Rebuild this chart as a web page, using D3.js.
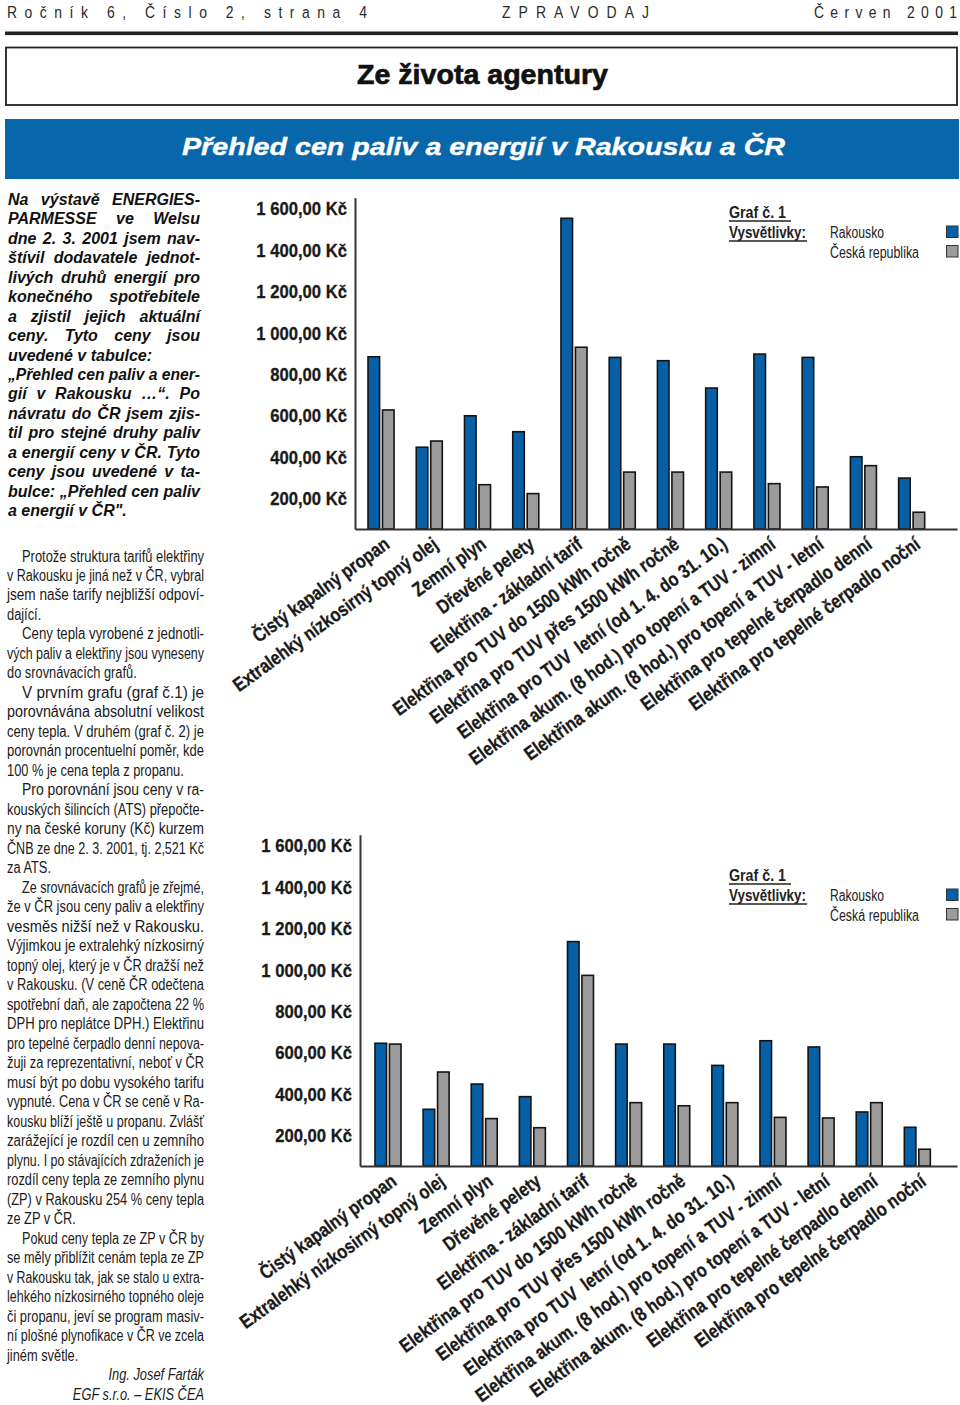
<!DOCTYPE html>
<html><head><meta charset="utf-8">
<script src="https://cdn.jsdelivr.net/npm/d3@7"></script>
<style>
body{margin:0;background:#fff}
svg{display:block}
.cat text{white-space:pre}
</style>
</head><body>
<svg id="page" width="960" height="1405"></svg>
<script>
// ---------------- DATA ----------------
const categories = [
  "Čistý kapalný propan",
  "Extralehký nízkosirný topný olej",
  "Zemní plyn",
  "Dřevěné pelety",
  "Elektřina - základní tarif",
  "Elektřina pro TUV do 1500 kWh ročně",
  "Elektřina pro TUV přes 1500 kWh ročně",
  "Elektřina pro TUV  letní (od 1. 4. do 31. 10.)",
  "Elektřina akum. (8 hod.) pro topení a TUV - zimní",
  "Elektřina akum. (8 hod.) pro topení a TUV - letní",
  "Elektřina pro tepelné čerpadlo denní",
  "Elektřina pro tepelné čerpadlo noční"
];
const seriesNames = ["Rakousko", "Česká republika"];
// Graf 1 (Kč)
const chart1Rakousko = [832, 395, 547, 470, 1501, 829, 813, 681, 845, 829, 349, 246];
const chart1CR       = [575, 425, 214, 171, 878, 275, 275, 275, 219, 203, 306, 81];
// Graf 2 (Kč)
const chart2Rakousko = [593, 274, 396, 335, 1084, 589, 589, 486, 605, 575, 261, 187];
const chart2CR       = [589, 454, 229, 185, 921, 306, 291, 306, 235, 232, 306, 81];
const yTickValues = [200, 400, 600, 800, 1000, 1200, 1400, 1600];
const yMax = 1600;
const legendTitle = "Graf č. 1";
const legendHeading = "Vysvětlivky:";

const headerLeft = "Ročník 6, Číslo 2, strana 4";
const headerMid = "ZPRAVODAJ";
const headerRight = "Červen 2001";
const sectionTitle = "Ze života agentury";
const articleTitle = "Přehled cen paliv a energií v Rakousku a ČR";

const introLines = [
  ["Na výstavě ENERGIES-", 1],
  ["PARMESSE ve Welsu", 1],
  ["dne 2. 3. 2001 jsem nav-", 1],
  ["štívil dodavatele jednot-", 1],
  ["livých druhů energií pro", 1],
  ["konečného spotřebitele", 1],
  ["a zjistil jejich aktuální", 1],
  ["ceny. Tyto ceny jsou", 1],
  ["uvedené v tabulce:", 0],
  ["„Přehled cen paliv a ener-", 1],
  ["gií v Rakousku …“. Po", 1],
  ["návratu do ČR jsem zjis-", 1],
  ["til pro stejné druhy paliv", 1],
  ["a energií ceny v ČR. Tyto", 1],
  ["ceny jsou uvedené v ta-", 1],
  ["bulce: „Přehled cen paliv", 1],
  ["a energií v ČR\".", 0]
];
// [text, justified, indent]
const bodyLines = [
  ["Protože struktura tarifů elektřiny", 1, 1],
  ["v Rakousku je jiná než v ČR, vybral", 1, 0],
  ["jsem naše tarify nejbližší odpoví-", 1, 0],
  ["dající.", 0, 0],
  ["Ceny tepla vyrobené z jednotli-", 1, 1],
  ["vých paliv a elektřiny jsou vyneseny", 1, 0],
  ["do srovnávacích grafů.", 0, 0],
  ["V prvním grafu (graf č.1) je", 1, 1],
  ["porovnávána absolutní velikost", 1, 0],
  ["ceny tepla. V druhém (graf č. 2) je", 1, 0],
  ["porovnán procentuelní poměr, kde", 1, 0],
  ["100 % je cena tepla z propanu.", 0, 0],
  ["Pro porovnání jsou ceny v ra-", 1, 1],
  ["kouských šilincích (ATS) přepočte-", 1, 0],
  ["ny na české koruny (Kč) kurzem", 1, 0],
  ["ČNB ze dne 2. 3. 2001, tj. 2,521 Kč", 1, 0],
  ["za ATS.", 0, 0],
  ["Ze srovnávacích grafů je zřejmé,", 1, 1],
  ["že v ČR jsou ceny paliv a elektřiny", 1, 0],
  ["vesměs nižší než v Rakousku.", 1, 0],
  ["Výjimkou je extralehký nízkosirný", 1, 0],
  ["topný olej, který je v ČR dražší než", 1, 0],
  ["v Rakousku. (V ceně ČR odečtena", 1, 0],
  ["spotřební daň, ale započtena 22 %", 1, 0],
  ["DPH pro neplátce DPH.) Elektřinu", 1, 0],
  ["pro tepelné čerpadlo denní nepova-", 1, 0],
  ["žuji za reprezentativní, neboť v ČR", 1, 0],
  ["musí být po dobu vysokého tarifu", 1, 0],
  ["vypnuté. Cena v ČR se ceně v Ra-", 1, 0],
  ["kousku blíží ještě u propanu. Zvlášť", 1, 0],
  ["zarážející je rozdíl cen u zemního", 1, 0],
  ["plynu. I po stávajících zdraženích je", 1, 0],
  ["rozdíl ceny tepla ze zemního plynu", 1, 0],
  ["(ZP) v Rakousku 254 % ceny tepla", 1, 0],
  ["ze ZP v ČR.", 0, 0],
  ["Pokud ceny tepla ze ZP v ČR by", 1, 1],
  ["se měly přiblížit cenám tepla ze ZP", 1, 0],
  ["v Rakousku tak, jak se stalo u extra-", 1, 0],
  ["lehkého nízkosirného topného oleje", 1, 0],
  ["či propanu, jeví se program masiv-", 1, 0],
  ["ní plošné plynofikace v ČR ve zcela", 1, 0],
  ["jiném světle.", 0, 0]
];
const signatureLines = ["Ing. Josef Farták", "EGF s.r.o. – EKIS ČEA"];

// ---------------- STYLE ----------------
const BLUE = "#0560a8";
const BAND = "#0866ab";
const GREY = "#9b9b9b";
const SANS = "'Liberation Sans',Arial,Helvetica,sans-serif";

const svg = d3.select("#page");

function fitText(sel, w, adj) {
  sel.attr("textLength", w).attr("lengthAdjust", adj || "spacingAndGlyphs");
  return sel;
}

// ---------------- HEADER ----------------
const hdr = svg.append("g").attr("font-family", SANS).attr("font-size", 17).attr("fill", "#2a2a2a");
[[headerLeft, 7, 360], [headerMid, 502, 147], [headerRight, 814, 143]].forEach(([t, x, w]) => {
  const el = hdr.append("text").attr("x", x).attr("y", 18).text(t);
  el.attr("transform", `translate(${x},0) scale(0.82,1) translate(${-x},0)`);
  fitText(el, w / 0.82, "spacing");
});
svg.append("rect").attr("x", 5).attr("y", 31.5).attr("width", 953).attr("height", 3.6).attr("fill", "#222");

svg.append("rect").attr("x", 6).attr("y", 47.5).attr("width", 951).attr("height", 57.5)
  .attr("fill", "none").attr("stroke", "#222").attr("stroke-width", 1.8);
fitText(svg.append("text").attr("x", 357).attr("y", 84)
  .attr("font-family", SANS).attr("font-weight", "bold").attr("font-size", 28)
  .attr("fill", "#111").attr("stroke", "#111").attr("stroke-width", 0.7)
  .text(sectionTitle), 251);

svg.append("rect").attr("x", 5).attr("y", 119).attr("width", 954).attr("height", 60).attr("fill", BAND);
fitText(svg.append("text").attr("x", 182).attr("y", 155)
  .attr("font-family", SANS).attr("font-weight", "bold").attr("font-style", "italic").attr("font-size", 24.5)
  .attr("fill", "#fff").attr("stroke", "#fff").attr("stroke-width", 0.4)
  .text(articleTitle), 603);

// ---------------- TEXT BLOCKS ----------------
function textBlock(lines, o) {
  const g = svg.append("g").attr("font-family", o.family).attr("font-size", o.size)
    .attr("font-weight", o.weight || "normal").attr("font-style", o.style || "normal").attr("fill", o.fill || "#111");
  const nodes = lines.map((ln, i) => {
    const [t, j, ind] = ln;
    const x = o.x + (ind ? o.indent : 0);
    const el = g.append("text").attr("x", x).attr("y", o.y + i * o.lh).text(t);
    return {el, t, j, target: o.width - (ind ? o.indent : 0), nat: el.node().getComputedTextLength()};
  });
  const js = nodes.filter(n => n.j);
  const ratios = js.map(n => n.target / n.nat).filter(r => r < 1);
  const cf = ratios.length > js.length / 2 ? d3.median(ratios) : 1;
  nodes.forEach(n => {
    if (n.j) {
      const spaces = (n.t.match(/ /g) || []).length;
      if (n.nat <= n.target && spaces > 0 && cf === 1) {
        n.el.attr("word-spacing", (n.target - n.nat) / spaces);
      } else {
        fitText(n.el, n.target);
      }
    } else if (cf < 1) {
      fitText(n.el, n.nat * cf);
    }
  });
  return cf;
}
textBlock(introLines, {family: SANS, size: 16, weight: "bold", style: "italic", x: 8, y: 205, lh: 19.44, width: 192, indent: 0});
const cf = textBlock(bodyLines, {family: SANS, size: 16, x: 7, y: 561.5, lh: 19.49, width: 197, indent: 15, fill: "#1a1a1a"});
const sig = svg.append("g").attr("font-family", SANS).attr("font-size", 16).attr("font-style", "italic").attr("fill", "#1a1a1a");
signatureLines.forEach((t, i) => {
  const el = sig.append("text").attr("x", 204).attr("y", 561.5 + (bodyLines.length + i) * 19.49).attr("text-anchor", "end").text(t);
  fitText(el, el.node().getComputedTextLength() * cf);
});

// ---------------- CHARTS ----------------
const fmt = d3.formatLocale({decimal: ",", thousands: " ", grouping: [3], currency: ["", " Kč"]}).format("$,.2f");

function drawChart(c) {
  const g = svg.append("g");
  const y = d3.scaleLinear().domain([0, yMax]).range([c.base, c.base - 331.2]);
  const x0 = d3.scaleBand().domain(categories).range([c.axisX, 957])
    .paddingInner(0.46).paddingOuter(c.po).align(c.align);
  const x1 = d3.scaleBand().domain(seriesNames).range([0, x0.bandwidth()]).paddingInner(0.2);
  const color = d3.scaleOrdinal().domain(seriesNames).range([BLUE, GREY]);
  const rows = categories.map((cat, i) => ({cat, vals: [c.a[i], c.b[i]]}));

  // bars
  g.append("g").selectAll("g").data(rows).join("g")
    .attr("transform", d => `translate(${x0(d.cat)},0)`)
    .selectAll("rect").data(d => d.vals.map((v, k) => ({s: seriesNames[k], v})))
    .join("rect")
    .attr("x", d => x1(d.s)).attr("y", d => y(d.v))
    .attr("width", x1.bandwidth()).attr("height", d => c.base - y(d.v))
    .attr("fill", d => color(d.s)).attr("stroke", "#141414").attr("stroke-width", 1.6);

  // y axis
  const ya = g.append("g").attr("transform", `translate(${c.axisX},0)`)
    .call(d3.axisLeft(y).tickValues(yTickValues).tickSize(0).tickSizeOuter(0).tickPadding(8).tickFormat(fmt));
  ya.select(".domain").attr("stroke", "#333").attr("stroke-width", 2);
  ya.selectAll("text").attr("dy", null).attr("y", 17)
    .attr("font-family", SANS).attr("font-weight", "bold").attr("font-size", 18.5).attr("fill", "#1a1a1a")
    .attr("stroke", "#1a1a1a").attr("stroke-width", 0.3)
    .each(function() {
      const n = this.getComputedTextLength();
      fitText(d3.select(this), n * 0.9);
    });

  // x axis with rotated, condensed labels
  const xa = g.append("g").attr("class", "cat").attr("transform", `translate(0,${c.base})`)
    .call(d3.axisBottom(x0).tickSize(0).tickSizeOuter(0));
  xa.select(".domain").attr("stroke", "#333").attr("stroke-width", 2);
  const lbl = xa.selectAll("text").attr("dy", null).attr("y", null).attr("text-anchor", "end")
    .attr("font-family", SANS).attr("font-weight", "bold").attr("font-size", 19.5).attr("fill", "#1a1a1a")
    .attr("stroke", "#1a1a1a").attr("stroke-width", 0.3);
  const firstLen = lbl.nodes()[0].getComputedTextLength();
  const sx = 164 / firstLen;
  lbl.attr("transform", `translate(10,18) rotate(-36) scale(${sx},1)`);

  // legend
  const L = g.append("g").attr("transform", `translate(0,${c.legY})`);
  fitText(L.append("text").attr("x", 729).attr("y", 0).attr("font-family", SANS).attr("font-weight", "bold")
    .attr("font-size", 16).attr("fill", "#222").text(legendTitle), 57);
  L.append("line").attr("x1", 729).attr("x2", 791).attr("y1", 3).attr("y2", 3).attr("stroke", "#222").attr("stroke-width", 1.3);
  fitText(L.append("text").attr("x", 729).attr("y", 20).attr("font-family", SANS).attr("font-weight", "bold")
    .attr("font-size", 16).attr("fill", "#222").text(legendHeading), 77);
  L.append("line").attr("x1", 729).attr("x2", 807).attr("y1", 23).attr("y2", 23).attr("stroke", "#222").attr("stroke-width", 1.3);
  const lw = [54, 89];
  seriesNames.forEach((s, k) => {
    fitText(L.append("text").attr("x", 830).attr("y", 20 + k * 20).attr("font-family", SANS)
      .attr("font-size", 16).attr("fill", "#222").text(s), lw[k]);
    L.append("rect").attr("x", 946.5).attr("y", 8 + k * 19.5).attr("width", 11.5).attr("height", 11.5)
      .attr("fill", color(s)).attr("stroke", "#333").attr("stroke-width", 1);
  });
}

drawChart({base: 529, axisX: 355, po: 0.47, align: 0.287, a: chart1Rakousko, b: chart1CR, legY: 218});
drawChart({base: 1166, axisX: 360, po: 0.433, align: 0.36, a: chart2Rakousko, b: chart2CR, legY: 881});
</script>
</body></html>
